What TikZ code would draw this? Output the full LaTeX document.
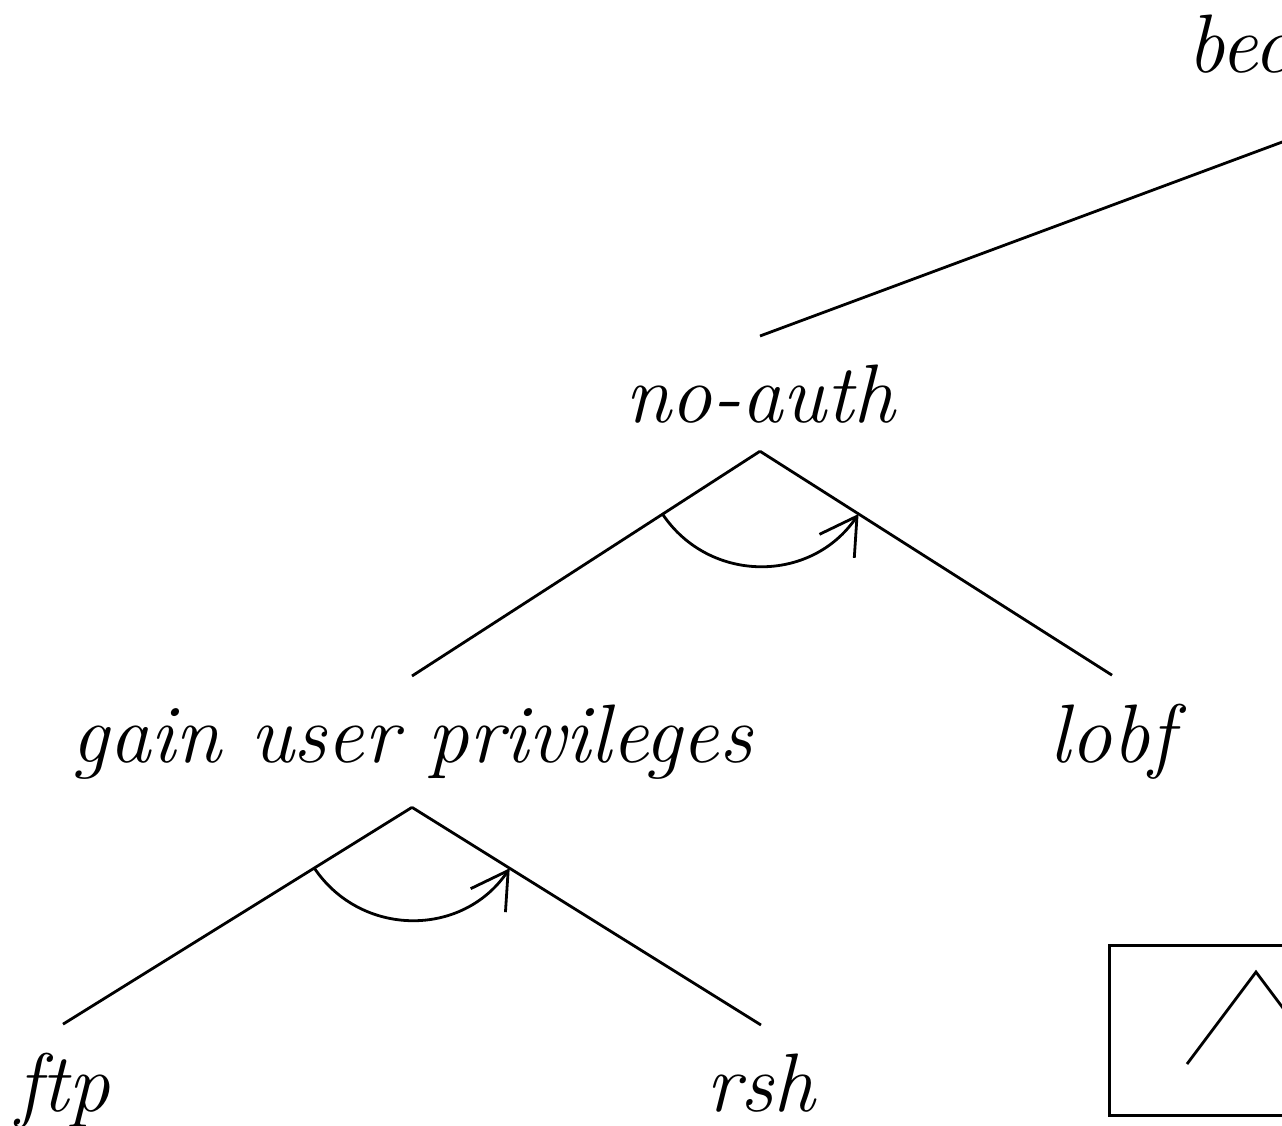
\documentclass[tikz,border=0pt]{standalone}
\usepackage{fontspec}
\usetikzlibrary{arrows.meta,calc}
\begin{document}
\begin{tikzpicture}[x=0.5pt,y=-0.5pt,line width=1.4pt,
  lbl/.style={font=\fontsize{41.5}{48}\selectfont\itshape,inner sep=13.5pt,anchor=base},
  turn/.style={-{Straight Barb[length=18pt,width=21pt]},out=-56,in=-124,looseness=1.1},
  legendbox/.style={draw,inner sep=0pt,minimum width=150pt,minimum height=85pt,anchor=north west}]
\useasboundingbox (0,0) rectangle (1282,1126);
\clip (0,0) rectangle (1282,1126);

% goal nodes
\node[lbl] (root)   at (1392,72)  {become root};
\node[lbl] (noauth) at (760,422)  {no-auth};
\node[lbl] (gain)   at (412,762)  {gain user privileges};
\node[lbl] (lobf)   at (1112,762) {lobf};
\node[lbl] (ftp)    at (63,1111)  {ftp};
\node[lbl] (rsh)    at (761,1111) {rsh};

% tree edges
\draw (root.south)   -- (noauth.north);
\draw (noauth.south) -- (gain.north);
\draw (noauth.south) -- (lobf.north);
\draw (gain.south)   -- (ftp.north);
\draw (gain.south)   -- (rsh.north);

% ordered AND arcs
\draw[turn] ($(noauth.south)!0.28!(gain.north)$) to ($(noauth.south)!0.28!(lobf.north)$);
\draw[turn] ($(gain.south)!0.28!(ftp.north)$) to ($(gain.south)!0.28!(rsh.north)$);

% legend box
\node[legendbox] (legend) at (1108,944) {};
\draw ([shift={(79,120)}]legend.north west) -- ++(69,-92) -- ++(69,92);
\end{tikzpicture}
\end{document}
